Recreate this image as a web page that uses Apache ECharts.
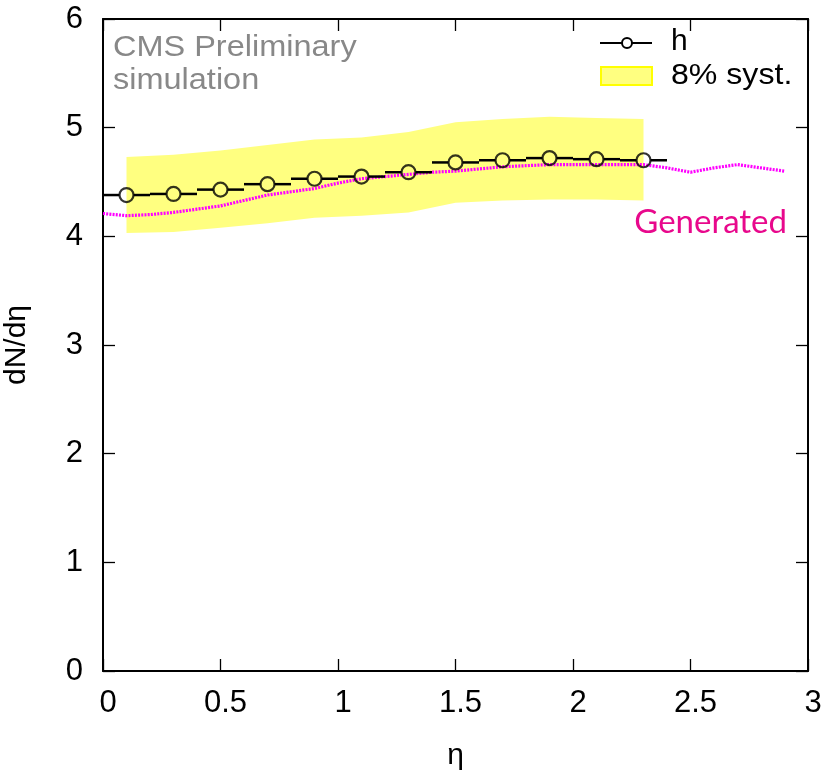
<!DOCTYPE html>
<html>
<head>
<meta charset="utf-8">
<script src="https://cdn.jsdelivr.net/npm/echarts@6/dist/echarts.min.js"></script>
<style>html,body{margin:0;padding:0;background:#fff}#c{width:823px;height:770px}</style>
</head>
<body>
<div id="c"></div>
<script>
// ---- data ----
var etaCenters = [0.1,0.3,0.5,0.7,0.9,1.1,1.3,1.5,1.7,1.9,2.1,2.3];
var etaLow     = [0.0,0.2,0.4,0.6,0.8,1.0,1.2,1.4,1.6,1.8,2.0,2.2];
var etaHigh    = [0.2,0.4,0.6,0.8,1.0,1.2,1.4,1.6,1.8,2.0,2.2,2.4];
var hValues    = [4.38,4.39,4.43,4.48,4.53,4.55,4.59,4.68,4.70,4.72,4.71,4.70];
var systUpper  = [4.73,4.75,4.79,4.84,4.89,4.91,4.96,5.05,5.08,5.10,5.09,5.08];
var systLower  = [4.03,4.04,4.08,4.12,4.17,4.19,4.22,4.31,4.33,4.34,4.34,4.33];
var genEta = [0.0,0.1,0.2,0.3,0.4,0.5,0.6,0.7,0.8,0.9,1.0,1.1,1.2,1.3,1.4,1.5,1.6,1.7,1.8,1.9,2.0,2.1,2.2,2.3,2.4,2.5,2.6,2.7,2.8,2.9];
var genValues = [4.21,4.19,4.20,4.22,4.25,4.28,4.33,4.38,4.41,4.44,4.49,4.53,4.55,4.57,4.59,4.60,4.62,4.64,4.65,4.66,4.66,4.66,4.66,4.66,4.63,4.59,4.63,4.66,4.63,4.60];
var xTicks = {min:0, max:3, interval:0.5};
var yTicks = {min:0, max:6, interval:1};

var FONT = 'Liberation Sans';
var chart = echarts.init(document.getElementById('c'), null, {renderer:'canvas'});

function mkX(pos, show){
  return {type:'value', position:pos, min:xTicks.min, max:xTicks.max, interval:xTicks.interval,
    axisLine:{show:true, onZero:false, lineStyle:{color:'#000', width:2}},
    axisTick:{show:true, inside:true, length:12, lineStyle:{color:'#000', width:1.3}},
    axisLabel:{show:show, color:'#000', fontFamily:FONT, fontSize:31, margin:17, padding:[0,0,0,10],
      formatter:function(v){return String(v);}},
    splitLine:{show:false},
    name: show ? 'η' : '', nameLocation:'middle', nameGap:70,
    nameTextStyle:{color:'#000', fontFamily:FONT, fontSize:30}};
}
function mkY(pos, show){
  return {type:'value', position:pos, min:yTicks.min, max:yTicks.max, interval:yTicks.interval,
    axisLine:{show:true, onZero:false, lineStyle:{color:'#000', width:2}},
    axisTick:{show:true, inside:true, length:12, lineStyle:{color:'#000', width:1.3}},
    axisLabel:{show:show, color:'#000', fontFamily:FONT, fontSize:31, margin:20},
    splitLine:{show:false},
    name: show ? 'dN/dη' : '', nameLocation:'middle', nameGap:71, nameRotate:90,
    nameTextStyle:{color:'#000', fontFamily:FONT, fontSize:30}};
}

var bandData = etaCenters.map(function(x,i){return [x, systLower[i], systUpper[i]];});
var errData = etaCenters.map(function(x,i){return [x, hValues[i], etaLow[i], etaHigh[i]];});
var ptData = etaCenters.map(function(x,i){return [x, hValues[i]];});
var genData = genEta.map(function(x,i){return [x, genValues[i]];});
var R = 7;

var option = {
  animation:false,
  backgroundColor:'#fff',
  grid:{left:103, right:15, top:19, bottom:99, containLabel:false, outerBoundsMode:'none'},
  xAxis:[mkX('bottom', true), mkX('top', false)],
  yAxis:[mkY('left', true), mkY('right', false)],
  series:[
    {type:'custom', name:'8% syst.', xAxisIndex:0, yAxisIndex:0, data:bandData, z:1,
      renderItem:function(params, api){
        if (params.dataIndex !== 0) return null;
        var pts = [];
        for (var i=0;i<etaCenters.length;i++) pts.push(api.coord([etaCenters[i], systUpper[i]]));
        for (var j=etaCenters.length-1;j>=0;j--) pts.push(api.coord([etaCenters[j], systLower[j]]));
        return {type:'polygon', shape:{points:pts}, style:{fill:'#ffff80', stroke:null}};
      }},
    {type:'line', name:'Generated', data:genData, showSymbol:false, symbol:'none', z:3,
      lineStyle:{color:'#ff00ff', width:3.2, type:[2,1.2]}},
    {type:'custom', name:'herr', data:errData, z:4,
      renderItem:function(params, api){
        var c = api.coord([api.value(0), api.value(1)]);
        var lo = api.coord([api.value(2), api.value(1)]);
        var hi = api.coord([api.value(3), api.value(1)]);
        var st = {stroke:'#000', lineWidth:2.5};
        return {type:'group', children:[
          {type:'line', shape:{x1:lo[0], y1:c[1], x2:c[0]-R, y2:c[1]}, style:st},
          {type:'line', shape:{x1:c[0]+R, y1:c[1], x2:hi[0], y2:c[1]}, style:st}
        ]};
      }},
    {type:'scatter', name:'h', data:ptData, symbol:'circle', symbolSize:14, z:5,
      itemStyle:{color:'rgba(0,0,0,0)', borderColor:'#000', borderWidth:2.2}}
  ],
  graphic:[
    {type:'text', left:113, top:33, scaleX:1.12, style:{text:'CMS Preliminary', fill:'#888', font:'29px "Liberation Sans"'}},
    {type:'text', left:113, top:66, scaleX:1.12, style:{text:'simulation', fill:'#888', font:'29px "Liberation Sans"'}},
    {type:'line', shape:{x1:600, y1:43, x2:652, y2:43}, style:{stroke:'#000', lineWidth:2}},
    {type:'circle', shape:{cx:627, cy:43, r:5}, style:{fill:'#fff', stroke:'#000', lineWidth:2}},
    {type:'text', left:671, top:27, style:{text:'h', fill:'#000', font:'30px "Liberation Sans"'}},
    {type:'rect', shape:{x:601, y:67, width:51, height:18}, style:{fill:'#ffff80', stroke:'#ffff00', lineWidth:2}},
    {type:'text', left:671, top:61, scaleX:1.07, style:{text:'8% syst.', fill:'#000', font:'30px "Liberation Sans"'}},
    {type:'text', right:36, top:206, style:{text:'Generated', fill:'#e8088c', font:'33px Lato'}}
  ]
};
chart.setOption(option);
</script>
</body>
</html>
